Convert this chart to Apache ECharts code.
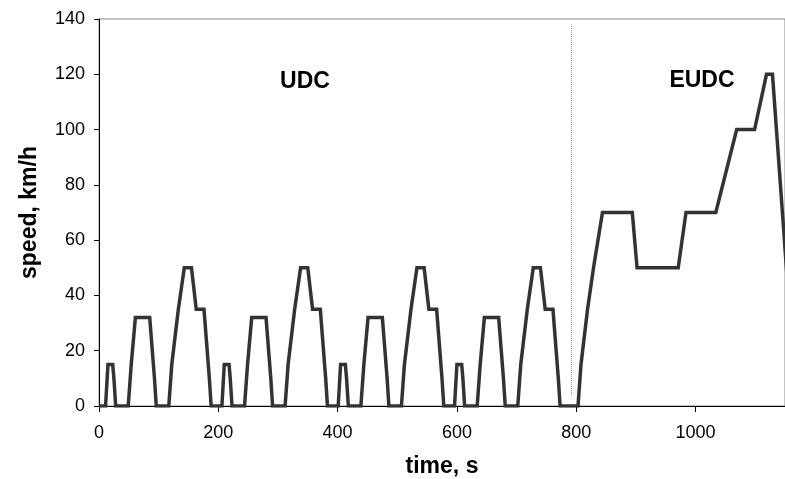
<!DOCTYPE html>
<html>
<head>
<meta charset="utf-8">
<script src="https://cdn.jsdelivr.net/npm/echarts@6/dist/echarts.min.js"></script>
<style>
  html, body { margin: 0; padding: 0; background: #fff; }
  #chart { width: 785px; height: 479px; }
</style>
</head>
<body>
<div id="chart"></div>
<script>
// one urban (ECE) cycle, time in s from cycle start, speed in km/h
var udcTimes  = [0, 11, 15, 23, 25, 28, 49, 54, 56, 61, 85, 93, 96, 117, 122, 124, 133, 135, 143, 155, 163, 176, 178, 185, 188, 195];
var udcSpeeds = [0, 0, 15, 15, 10, 0, 0, 15, 15, 32, 32, 10, 0, 0, 15, 15, 35, 35, 50, 50, 35, 35, 35, 10, 0, 0];
var udcStarts = [0, 195, 390, 585];

// extra-urban part
var eudcStart  = 783;
var eudcTimes  = [0, 20, 25, 27, 36, 38, 46, 48, 61, 111, 119, 188, 201, 251, 286, 316, 336, 346, 386];
var eudcSpeeds = [0, 0, 15, 15, 35, 35, 50, 50, 70, 70, 50, 50, 70, 70, 100, 100, 120, 120, 0];

// dotted divider between the two parts
var dividerLine = [[792, 4], [792, 138]];

var xTicks = [0, 200, 400, 600, 800, 1000];
var yTicks = [0, 20, 40, 60, 80, 100, 120, 140];

var cycleData = [];
udcStarts.forEach(function (start) {
    udcTimes.forEach(function (t, i) {
        cycleData.push([start + t, udcSpeeds[i]]);
    });
});
eudcTimes.forEach(function (t, i) {
    cycleData.push([eudcStart + t, eudcSpeeds[i]]);
});

var chart = echarts.init(document.getElementById('chart'));

var options = {
    animation: false,
    backgroundColor: '#fff',
    grid: {
        left: 99,
        right: 0,
        top: 19,
        bottom: 73,
        outerBoundsMode: 'none',
        containLabel: false,
        show: true,
        borderColor: '#888',
        borderWidth: 1
    },
    xAxis: {
        type: 'value',
        min: 0,
        max: 1150,
        interval: 200,
        name: 'time, s',
        nameLocation: 'middle',
        nameGap: 49,
        nameTextStyle: { fontFamily: 'Liberation Sans', fontWeight: 'bold', fontSize: 23, color: '#000' },
        axisLine: { show: true, onZero: false, lineStyle: { color: '#000', width: 1 } },
        axisTick: { show: true, length: 6, lineStyle: { color: '#000' } },
        axisLabel: {
            fontFamily: 'Liberation Sans', fontSize: 18, color: '#000', margin: 18,
            formatter: function (v) { return xTicks.indexOf(v) >= 0 ? String(v) : ''; }
        },
        splitLine: { show: false }
    },
    yAxis: {
        type: 'value',
        min: 0,
        max: 140,
        interval: 20,
        name: 'speed, km/h',
        nameLocation: 'middle',
        nameGap: 58,
        nameTextStyle: { fontFamily: 'Liberation Sans', fontWeight: 'bold', fontSize: 23, color: '#000' },
        axisLine: { show: true, lineStyle: { color: '#000', width: 1 } },
        axisTick: { show: true, length: 5, lineStyle: { color: '#000' } },
        axisLabel: {
            fontFamily: 'Liberation Sans', fontSize: 18, color: '#000', margin: 14,
            formatter: function (v) { return yTicks.indexOf(v) >= 0 ? String(v) : ''; }
        },
        splitLine: { show: false }
    },
    graphic: [
        {
            type: 'text', x: 305, y: 82,
            style: { text: 'UDC', align: 'center', verticalAlign: 'middle',
                     font: 'bold 23px "Liberation Sans"', fill: '#000' }
        },
        {
            type: 'text', x: 702, y: 81,
            style: { text: 'EUDC', align: 'center', verticalAlign: 'middle',
                     font: 'bold 23px "Liberation Sans"', fill: '#000' }
        }
    ],
    series: [
        {
            type: 'line',
            data: dividerLine,
            symbol: 'none',
            silent: true,
            lineStyle: { color: '#888', width: 1, type: 'dotted' }
        },
        {
            type: 'line',
            data: cycleData,
            symbol: 'none',
            clip: true,
            lineStyle: { color: '#333', width: 3.5, join: 'miter' }
        }
    ]
};

chart.setOption(options);
</script>
</body>
</html>
